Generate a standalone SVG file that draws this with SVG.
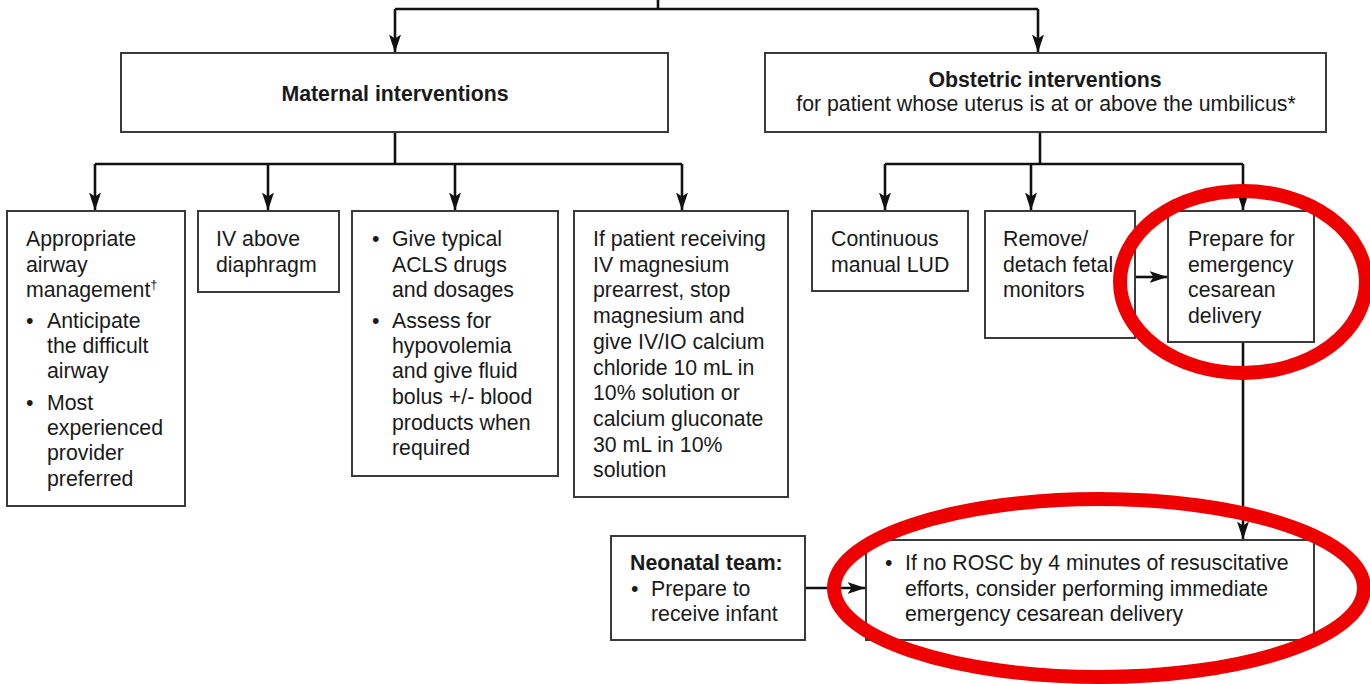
<svg xmlns="http://www.w3.org/2000/svg" width="1370" height="684" viewBox="0 0 1370 684">
<style>
.box{fill:#fff;stroke:#3a3a3a;stroke-width:2}
.ln{fill:none;stroke:#111;stroke-width:2.6}
text{font-family:"Liberation Sans",Arial,sans-serif;font-size:21.3px;fill:#1a1a1a}
.b{font-weight:bold}
.ring{fill:none;stroke:#ee0000;stroke-width:14}
</style>
<defs>
<marker id="ah" viewBox="0 0 18 12" refX="17.5" refY="6" markerWidth="18" markerHeight="12" markerUnits="userSpaceOnUse" orient="auto">
<path d="M0,0 L18,6 L0,12 L4,6 z" fill="#111"/>
</marker>
</defs>
<rect width="1370" height="684" fill="#fff"/>
<g id="connectors">
<path class="ln" d="M658,0 V9 M395,9 H1038"/>
<path class="ln" d="M395,9 V52" marker-end="url(#ah)"/>
<path class="ln" d="M1038,9 V52" marker-end="url(#ah)"/>
<path class="ln" d="M395,132 V164 M95,164 H682"/>
<path class="ln" d="M95,164 V210" marker-end="url(#ah)"/>
<path class="ln" d="M268,164 V210" marker-end="url(#ah)"/>
<path class="ln" d="M455,164 V210" marker-end="url(#ah)"/>
<path class="ln" d="M682,164 V210" marker-end="url(#ah)"/>
<path class="ln" d="M1040,132 V164 M885,164 H1243"/>
<path class="ln" d="M885,164 V210" marker-end="url(#ah)"/>
<path class="ln" d="M1031,164 V210" marker-end="url(#ah)"/>
<path class="ln" d="M1243,164 V210" marker-end="url(#ah)"/>
<path class="ln" d="M1135,277 H1167" marker-end="url(#ah)"/>
<path class="ln" d="M1243,342 V539" marker-end="url(#ah)"/>
<path class="ln" d="M805,588 H865" marker-end="url(#ah)"/>
</g>
<g id="maternal">
<rect class="box" x="121" y="53" width="547" height="79"/>
<text class="b" x="395" y="101" text-anchor="middle">Maternal interventions</text>
</g>
<g id="obstetric">
<rect class="box" x="765" y="53" width="561" height="79"/>
<text class="b" x="1045" y="87" text-anchor="middle">Obstetric interventions</text>
<text x="1046" y="111" text-anchor="middle" font-size="22.5">for patient whose uterus is at or above the umbilicus*</text>
</g>
<g id="airway">
<rect class="box" x="7" y="211" width="178" height="295"/>
<text x="26" y="246">Appropriate</text>
<text x="26" y="272">airway</text>
<text x="26" y="297">management<tspan font-size="13" dy="-8">†</tspan></text>
<text x="26" y="328">•</text>
<text x="47" y="328">Anticipate</text>
<text x="47" y="353">the difficult</text>
<text x="47" y="378">airway</text>
<text x="26" y="410">•</text>
<text x="47" y="410">Most</text>
<text x="47" y="435">experienced</text>
<text x="47" y="460">provider</text>
<text x="47" y="486">preferred</text>
</g>
<g id="iv">
<rect class="box" x="198" y="211" width="141" height="81"/>
<text x="216" y="246">IV above</text>
<text x="216" y="272">diaphragm</text>
</g>
<g id="acls">
<rect class="box" x="352" y="211" width="206" height="265"/>
<text x="372" y="246">•</text>
<text x="392" y="246">Give typical</text>
<text x="392" y="272">ACLS drugs</text>
<text x="392" y="297">and dosages</text>
<text x="372" y="328">•</text>
<text x="392" y="328">Assess for</text>
<text x="392" y="353">hypovolemia</text>
<text x="392" y="378">and give fluid</text>
<text x="392" y="404">bolus +/- blood</text>
<text x="392" y="430">products when</text>
<text x="392" y="455">required</text>
</g>
<g id="magnesium">
<rect class="box" x="574" y="211" width="214" height="286"/>
<text x="593" y="246">If patient receiving</text>
<text x="593" y="272">IV magnesium</text>
<text x="593" y="297">prearrest, stop</text>
<text x="593" y="323">magnesium and</text>
<text x="593" y="349">give IV/IO calcium</text>
<text x="593" y="375">chloride 10 mL in</text>
<text x="593" y="400">10% solution or</text>
<text x="593" y="426">calcium gluconate</text>
<text x="593" y="452">30 mL in 10%</text>
<text x="593" y="477">solution</text>
</g>
<g id="lud">
<rect class="box" x="812" y="211" width="156" height="80"/>
<text x="831" y="246">Continuous</text>
<text x="831" y="272">manual LUD</text>
</g>
<g id="monitors">
<rect class="box" x="985" y="211" width="150" height="127"/>
<text x="1003" y="246">Remove/</text>
<text x="1003" y="272">detach fetal</text>
<text x="1003" y="297">monitors</text>
</g>
<g id="prepare">
<rect class="box" x="1168" y="211" width="146" height="131"/>
<text x="1188" y="246">Prepare for</text>
<text x="1188" y="272">emergency</text>
<text x="1188" y="297">cesarean</text>
<text x="1188" y="323">delivery</text>
</g>
<g id="neonatal">
<rect class="box" x="611" y="536" width="194" height="104"/>
<text class="b" x="630" y="570">Neonatal team:</text>
<text x="631" y="596">•</text>
<text x="651" y="596">Prepare to</text>
<text x="651" y="621">receive infant</text>
</g>
<g id="rosc">
<rect class="box" x="866" y="540" width="448" height="100"/>
<text x="885" y="570">•</text>
<text x="905" y="570">If no ROSC by 4 minutes of resuscitative</text>
<text x="905" y="596">efforts, consider performing immediate</text>
<text x="905" y="621">emergency cesarean delivery</text>
</g>
<g id="highlights">
<ellipse class="ring" cx="1243" cy="282" rx="123" ry="91"/>
<ellipse class="ring" cx="1099" cy="588" rx="265" ry="89"/>
</g>
</svg>
